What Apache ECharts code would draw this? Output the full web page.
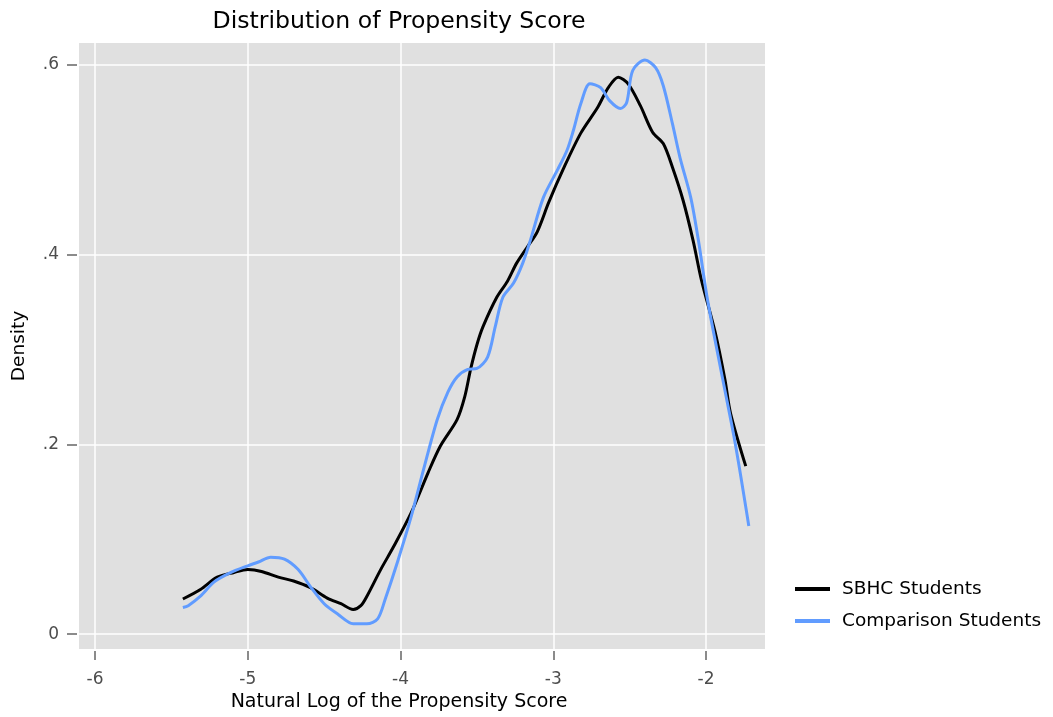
<!DOCTYPE html>
<html><head><meta charset="utf-8">
<script src="https://cdn.jsdelivr.net/npm/echarts@6/dist/echarts.min.js"></script>
<style>html,body{margin:0;padding:0;background:#fff}#c{width:1053px;height:717px}</style>
</head><body><div id="c"></div>
<script>
const seriesNames = ['SBHC Students', 'Comparison Students'];
const xTicks = [-6, -5, -4, -3, -2];
const yTicks = [0, 0.2, 0.4, 0.6];
const sbhc = [[-5.425,0.037],[-5.31,0.047],[-5.20,0.060],[-5.09,0.065],[-5.0,0.068],[-4.91,0.066],[-4.80,0.060],[-4.70,0.056],[-4.59,0.049],[-4.48,0.038],[-4.39,0.032],[-4.31,0.026],[-4.26,0.030],[-4.22,0.040],[-4.13,0.068],[-4.046,0.092],[-3.93,0.128],[-3.82,0.170],[-3.74,0.198],[-3.63,0.226],[-3.58,0.250],[-3.54,0.280],[-3.50,0.305],[-3.46,0.324],[-3.37,0.355],[-3.30,0.372],[-3.24,0.391],[-3.17,0.408],[-3.105,0.424],[-3.03,0.455],[-2.935,0.490],[-2.82,0.528],[-2.71,0.555],[-2.64,0.576],[-2.575,0.587],[-2.51,0.580],[-2.43,0.557],[-2.35,0.529],[-2.28,0.517],[-2.22,0.492],[-2.15,0.457],[-2.085,0.415],[-2.03,0.373],[-1.94,0.318],[-1.876,0.268],[-1.84,0.233],[-1.74,0.177]];
const comparison = [[-5.425,0.028],[-5.39,0.030],[-5.31,0.040],[-5.22,0.055],[-5.11,0.065],[-5.0,0.072],[-4.93,0.076],[-4.85,0.081],[-4.76,0.079],[-4.67,0.068],[-4.59,0.050],[-4.50,0.032],[-4.41,0.021],[-4.31,0.011],[-4.22,0.011],[-4.15,0.016],[-4.10,0.037],[-4.02,0.076],[-3.93,0.124],[-3.85,0.173],[-3.76,0.226],[-3.69,0.255],[-3.63,0.271],[-3.56,0.279],[-3.50,0.280],[-3.43,0.292],[-3.38,0.324],[-3.33,0.355],[-3.26,0.370],[-3.20,0.391],[-3.15,0.415],[-3.065,0.46],[-2.97,0.49],[-2.91,0.51],[-2.87,0.53],[-2.82,0.559],[-2.76,0.580],[-2.69,0.576],[-2.63,0.562],[-2.56,0.554],[-2.52,0.560],[-2.48,0.594],[-2.40,0.605],[-2.33,0.597],[-2.28,0.578],[-2.22,0.538],[-2.17,0.502],[-2.10,0.460],[-2.05,0.415],[-1.99,0.352],[-1.89,0.268],[-1.81,0.202],[-1.72,0.114]];

const font = 'DejaVu Sans, Liberation Sans, Arial, sans-serif';
const chart = echarts.init(document.getElementById('c'), null, {renderer: 'canvas'});
chart.setOption({
  animation: false,
  backgroundColor: '#ffffff',
  title: {
    text: 'Distribution of Propensity Score',
    left: 394, top: 5, textAlign: 'center',
    textStyle: {fontFamily: font, fontSize: 23.6, fontWeight: 'normal', color: '#000'}
  },
  legend: {
    orient: 'vertical', left: 790, top: 574, itemGap: 12,
    icon: 'rect', itemWidth: 35, itemHeight: 4,
    textStyle: {fontFamily: font, fontSize: 18.5, lineHeight: 20, color: '#000', padding: [0, 0, 0, 7]},
    data: seriesNames
  },
  grid: {left: 79, top: 43, right: 288, bottom: 67, show: true, backgroundColor: '#e0e0e0', borderWidth: 0, containLabel: false},
  xAxis: {
    type: 'value', min: -6.105, max: -1.614, offset: 2,
    name: 'Natural Log of the Propensity Score', nameLocation: 'middle', nameGap: 40,
    nameTextStyle: {fontFamily: font, fontSize: 19, color: '#000', padding: [0, 46, 0, 0]},
    axisLine: {show: false, onZero: false},
    axisTick: {show: true, customValues: xTicks, length: 9, lineStyle: {color: '#666666', width: 1.5}},
    axisLabel: {customValues: xTicks, margin: 20, fontFamily: font, fontSize: 17, color: '#4d4d4d', formatter: v => String(v)},
    splitLine: {show: true, lineStyle: {color: '#ffffff', width: 1.5}}
  },
  yAxis: {
    type: 'value', min: -0.0158, max: 0.623, offset: 2,
    name: 'Density', nameLocation: 'middle', nameGap: 48, nameRotate: 90,
    nameTextStyle: {fontFamily: font, fontSize: 18.5, color: '#000'},
    axisLine: {show: false, onZero: false},
    axisTick: {show: true, customValues: yTicks, length: 10, lineStyle: {color: '#666666', width: 1.5}},
    axisLabel: {customValues: yTicks, margin: 18, fontFamily: font, fontSize: 17, color: '#4d4d4d',
      formatter: v => v === 0 ? '0' : String(Math.round(v * 10) / 10).replace(/^0/, '')},
    splitLine: {show: true, lineStyle: {color: '#ffffff', width: 1.5}}
  },
  series: [
    {name: seriesNames[0], type: 'line', data: sbhc, smooth: 0.3, showSymbol: false, lineStyle: {color: '#000000', width: 3}, itemStyle: {color: '#000000'}},
    {name: seriesNames[1], type: 'line', data: comparison, smooth: 0.3, showSymbol: false, lineStyle: {color: '#619CFF', width: 3}, itemStyle: {color: '#619CFF'}}
  ]
});
</script></body></html>
